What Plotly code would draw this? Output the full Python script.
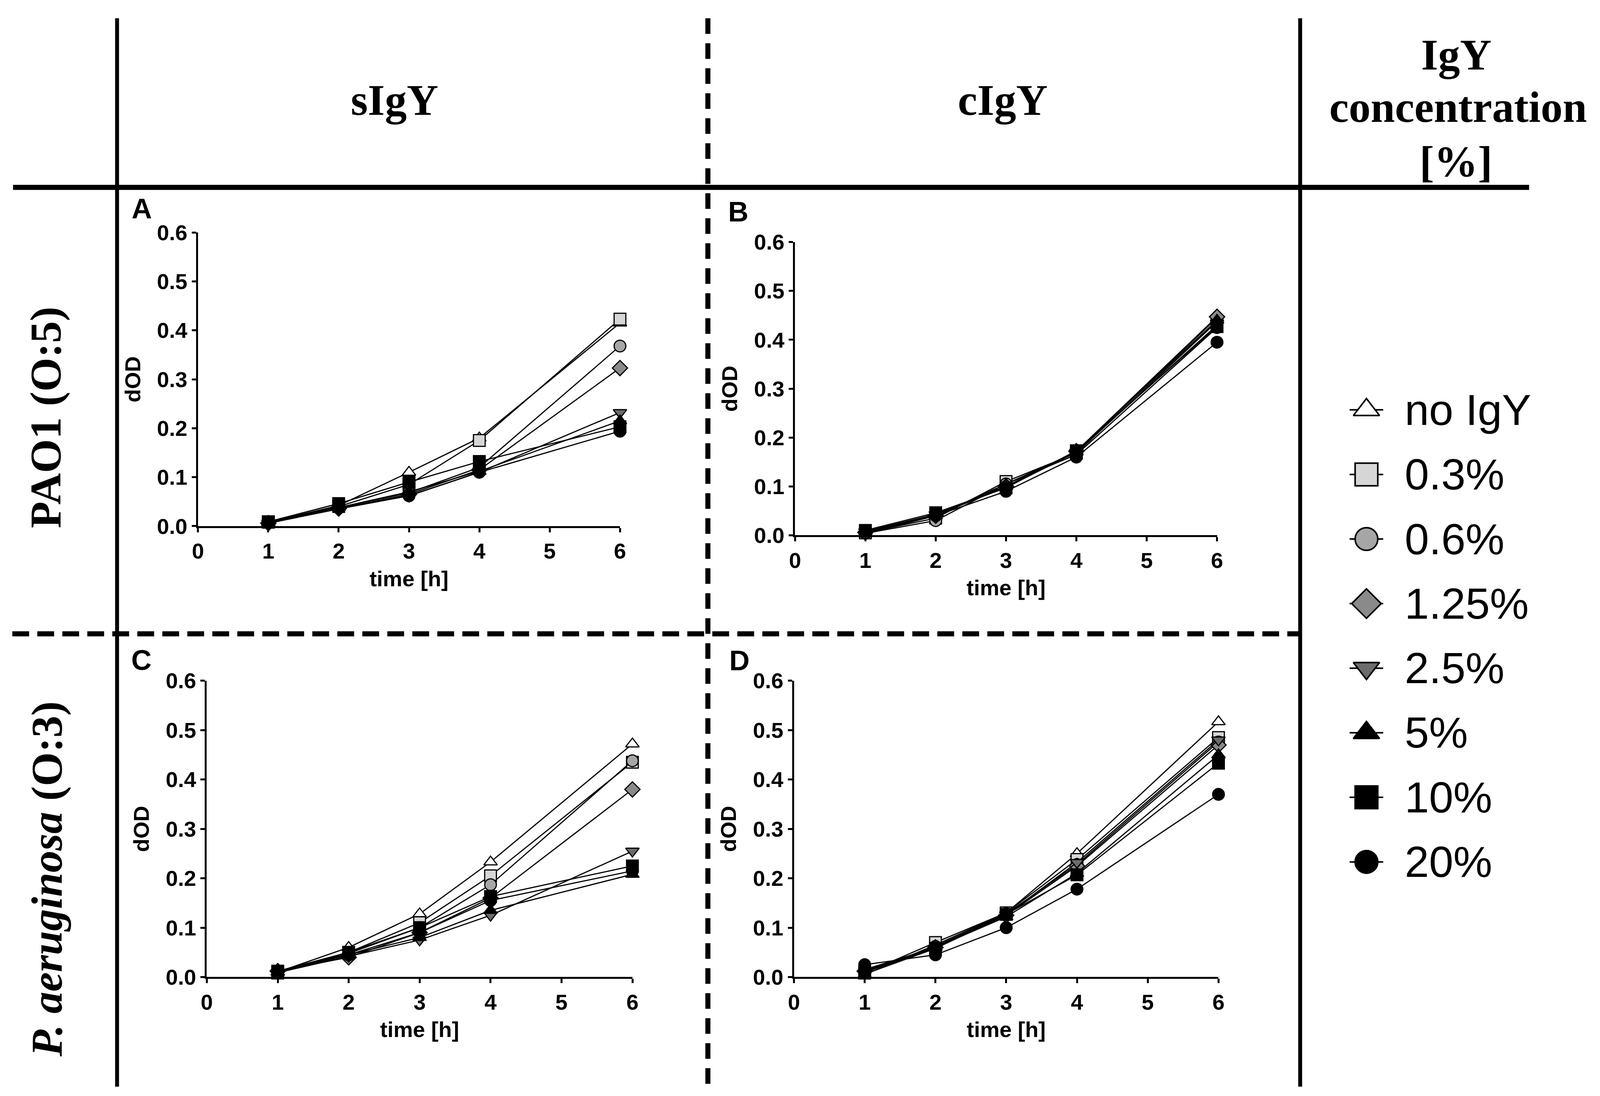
import plotly.graph_objects as go

W, H = 4317, 2806

time_h = [1, 2, 3, 4, 6]
conc_labels = ['no IgY', '0.3%', '0.6%', '1.25%', '2.5%', '5%', '10%', '20%']
marker_symbols = ['triangle-up', 'square', 'circle', 'diamond', 'triangle-down', 'triangle-up', 'square', 'circle']
marker_fills = ['white', '#d6d6d6', '#a6a6a6', '#8a8a8a', '#6c6c6c', 'black', 'black', 'black']

# dOD values, one row per concentration (same order as conc_labels)
dod_A = [  # sIgY, PAO1 (O:5)
    [0.008, 0.042, 0.110, 0.180, 0.415],
    [0.008, 0.040, 0.085, 0.175, 0.423],
    [0.007, 0.038, 0.068, 0.120, 0.368],
    [0.006, 0.036, 0.065, 0.115, 0.323],
    [0.006, 0.035, 0.062, 0.110, 0.232],
    [0.007, 0.038, 0.070, 0.112, 0.215],
    [0.009, 0.046, 0.090, 0.132, 0.203],
    [0.007, 0.037, 0.062, 0.110, 0.194],
]
dod_B = [  # cIgY, PAO1 (O:5)
    [0.003, 0.040, 0.105, 0.170, 0.445],
    [0.005, 0.035, 0.110, 0.168, 0.437],
    [0.004, 0.030, 0.105, 0.165, 0.425],
    [0.006, 0.040, 0.100, 0.172, 0.447],
    [0.007, 0.042, 0.098, 0.170, 0.430],
    [0.008, 0.043, 0.100, 0.172, 0.440],
    [0.010, 0.046, 0.097, 0.173, 0.427],
    [0.009, 0.040, 0.090, 0.160, 0.395],
]
dod_C = [  # sIgY, P. aeruginosa (O:3)
    [0.010, 0.060, 0.128, 0.233, 0.472],
    [0.008, 0.050, 0.110, 0.205, 0.435],
    [0.010, 0.048, 0.100, 0.187, 0.438],
    [0.012, 0.040, 0.090, 0.160, 0.380],
    [0.009, 0.042, 0.075, 0.125, 0.255],
    [0.010, 0.045, 0.080, 0.135, 0.208],
    [0.012, 0.050, 0.100, 0.163, 0.225],
    [0.011, 0.045, 0.090, 0.155, 0.215],
]
dod_D = [  # cIgY, P. aeruginosa (O:3)
    [0.005, 0.065, 0.130, 0.250, 0.517],
    [0.008, 0.070, 0.130, 0.238, 0.485],
    [0.010, 0.062, 0.128, 0.228, 0.476],
    [0.012, 0.060, 0.125, 0.225, 0.470],
    [0.006, 0.058, 0.126, 0.232, 0.480],
    [0.015, 0.060, 0.122, 0.210, 0.450],
    [0.010, 0.058, 0.127, 0.207, 0.433],
    [0.025, 0.045, 0.100, 0.178, 0.370],
]

def px(x):
    return x / W

def py(y):
    return 1 - y / H

# panel boxes in reference pixels: left, right, top, bottom
panels = [
    ('A', dod_A, (515, 1667, 569, 1338)),
    ('B', dod_B, (2145, 3297, 594, 1362)),
    ('C', dod_C, (539, 1701, 1743, 2519)),
    ('D', dod_D, (2142, 3301, 1743, 2519)),
]
letter_pos = {'A': (362, 506), 'B': (1990, 515), 'C': (360, 1689), 'D': (1993, 1690)}

tick_font = dict(family='Liberation Sans, Arial', size=56, color='black', weight='bold')
fig = go.Figure()
# no fixed width/height: the figure fills the browser viewport
layout = dict(margin=dict(l=0, r=0, t=0, b=0),
              paper_bgcolor='white', plot_bgcolor='white', showlegend=False)
annotations = []

for k, (letter, data, (l, r, t, b)) in enumerate(panels, start=1):
    xa = 'x' if k == 1 else f'x{k}'
    ya = 'y' if k == 1 else f'y{k}'
    for i, row in enumerate(data):
        fig.add_trace(go.Scatter(
            x=time_h, y=row, xaxis=xa, yaxis=ya, mode='lines+markers', cliponaxis=False,
            line=dict(color='black', width=3),
            marker=dict(symbol=marker_symbols[i], size=30, color=marker_fills[i],
                        line=dict(color='black', width=3)),
            name=conc_labels[i]))
    common = dict(showline=True, linewidth=5, linecolor='black', ticks='outside',
                  ticklen=11, tickwidth=5, tickcolor='black', showgrid=False,
                  zeroline=False, tickfont=tick_font)
    layout['xaxis' if k == 1 else f'xaxis{k}'] = dict(
        common, domain=[px(l), px(r)], anchor=ya, range=[0, 6], tick0=0, dtick=1,
        title=dict(text='time [h]', font=tick_font, standoff=22))
    layout['yaxis' if k == 1 else f'yaxis{k}'] = dict(
        common, domain=[py(b), py(t)], anchor=xa, range=[0, 0.6], tick0=0, dtick=0.1,
        tickformat='.1f', title=dict(text='dOD', font=tick_font, standoff=26))
    lx, ly = letter_pos[letter]
    annotations.append(dict(text=letter, x=px(lx), y=py(ly), xref='paper', yref='paper',
                            showarrow=False, xanchor='center', yanchor='middle',
                            font=dict(family='Liberation Sans, Arial', size=72, color='black', weight='bold')))

# custom legend drawn on its own hidden axes
legend_top, legend_bottom = 1034 - 85, 2217 + 85
legend_rows = [1034 + 169 * i for i in range(len(conc_labels))]
layout['xaxis5'] = dict(domain=[px(3659), px(3751)], range=[0, 1], visible=False, anchor='y5')
layout['yaxis5'] = dict(domain=[py(legend_bottom), py(legend_top)], range=[7.5, -0.5], visible=False, anchor='x5')
for i, lab in enumerate(conc_labels):
    fig.add_trace(go.Scatter(x=[0, 1], y=[i, i], xaxis='x5', yaxis='y5', mode='lines',
                             line=dict(color='black', width=4), cliponaxis=False))
    fig.add_trace(go.Scatter(x=[0.5], y=[i], xaxis='x5', yaxis='y5', mode='markers', cliponaxis=False,
                             marker=dict(symbol=marker_symbols[i], size=58, color=marker_fills[i],
                                         line=dict(color='black', width=4))))
    annotations.append(dict(text=lab, x=px(3807), y=py(legend_rows[i]), xref='paper', yref='paper',
                            showarrow=False, xanchor='left', yanchor='middle',
                            font=dict(family='Liberation Sans, Arial', size=112, color='black')))

serif = dict(family='Liberation Serif, Times New Roman', size=112, color='black', weight='bold')
headers = [
    ('sIgY', 1051, 222, 0),
    ('cIgY', 2712, 222, 0),
    ('IgY', 3950, 104, 0),
    ('concentration', 3955, 240, 0),
    ('[%]', 3950, 384, 0),
    ('PAO1 (O:5)', 100, 1053, -90),
    ('<i>P. aeruginosa</i> (O:3)', 103, 2262, -90),
]
for txt, x, y, ang in headers:
    annotations.append(dict(text=txt, x=px(x), y=py(y), xref='paper', yref='paper',
                            showarrow=False, xanchor='center', yanchor='middle',
                            textangle=ang, font=serif))

# table frame lines
def seg(x0, y0, x1, y1, w, dash='solid'):
    return dict(type='line', xref='paper', yref='paper', x0=px(x0), y0=py(y0), x1=px(x1), y1=py(y1),
                line=dict(color='black', width=w, dash=dash))

layout['shapes'] = [
    seg(294, 8, 294, H, 10),
    seg(3524, 8, 3524, H, 10),
    seg(10, 451, 4149, 451, 13),
    seg(1907, 8, 1907, H, 13, '40px,24px'),
    seg(8, 1620, 3524, 1620, 13, '43px,21px'),
]
layout['annotations'] = annotations
fig.update_layout(**layout)
fig.write_html("out.html", default_height="100vh")
